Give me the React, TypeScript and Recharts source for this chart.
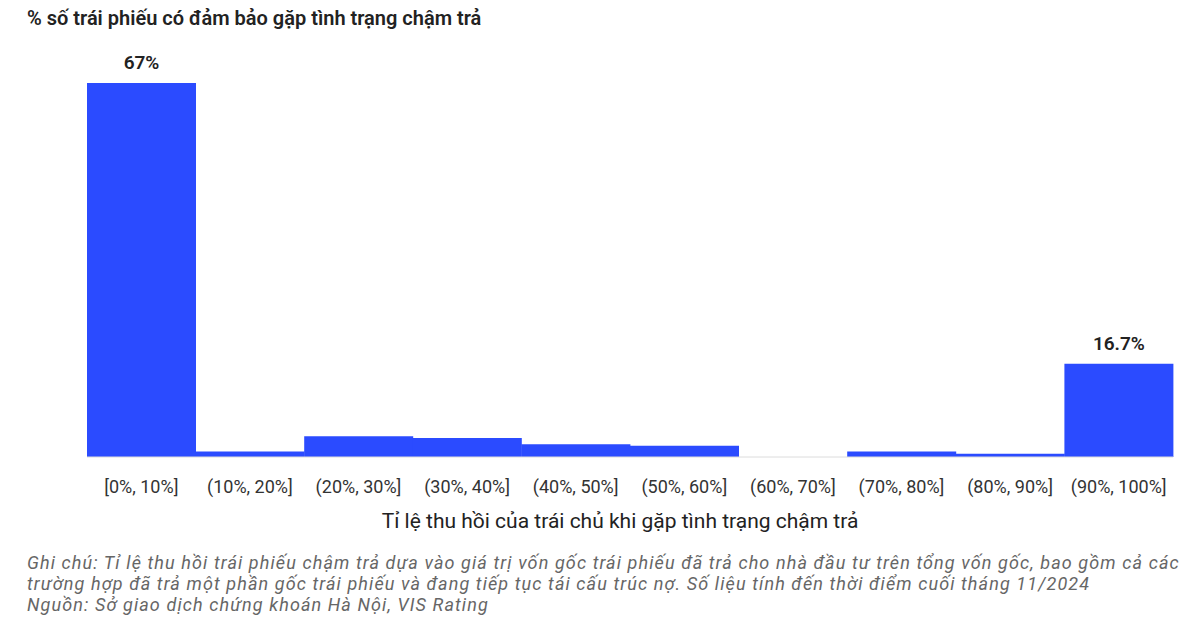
import { BarChart, Bar, XAxis, YAxis, LabelList } from "recharts";

const categories = [
  "[0%, 10%]",
  "(10%, 20%]",
  "(20%, 30%]",
  "(30%, 40%]",
  "(40%, 50%]",
  "(50%, 60%]",
  "(60%, 70%]",
  "(70%, 80%]",
  "(80%, 90%]",
  "(90%, 100%]",
];
const shares = [67, 1.0, 3.7, 3.4, 2.3, 2.0, 0, 1.0, 0.6, 16.7];
const shownLabels = ["67%", "", "", "", "", "", "", "", "", "16.7%"];

const data = categories.map((c, i) => ({
  name: c,
  value: shares[i],
  label: shownLabels[i],
}));

const font = "Roboto, 'Noto Sans', sans-serif";

export default function App() {
  return (
    <div
      style={{
        position: "absolute",
        left: 0,
        top: 0,
        width: 1200,
        height: 640,
        background: "#fff",
        fontFamily: font,
      }}
    >
      <div
        style={{
          position: "absolute",
          left: 27,
          top: 6,
          fontSize: 20,
          fontWeight: 600,
          color: "#222",
        }}
      >
        % số trái phiếu có đảm bảo gặp tình trạng chậm trả
      </div>
      <BarChart
        width={1200}
        height={640}
        data={data}
        margin={{ top: 55, right: 27, bottom: 153, left: 87 }}
        barCategoryGap={0}
      >
        <YAxis
          width={0}
          domain={[0, 72]}
          tick={false}
          tickLine={false}
          axisLine={{ stroke: "#dcdcdc" }}
        />
        <XAxis
          dataKey="name"
          height={30}
          tickLine={false}
          axisLine={{ stroke: "#dcdcdc" }}
          interval={0}
          tick={{ fontSize: 18, fill: "#333", fontFamily: font }}
          tickMargin={17}
        />
        <Bar dataKey="value" fill="#2b4bff" isAnimationActive={false}>
          <LabelList
            dataKey="label"
            position="top"
            offset={14}
            style={{ fontSize: 19, fontWeight: 600, fill: "#222", fontFamily: font }}
          />
        </Bar>
      </BarChart>
      <div
        style={{
          position: "absolute",
          left: 0,
          width: 1240,
          top: 509,
          textAlign: "center",
          fontSize: 21,
          color: "#222",
        }}
      >
        Tỉ lệ thu hồi của trái chủ khi gặp tình trạng chậm trả
      </div>
      <div
        style={{
          position: "absolute",
          left: 27,
          top: 552,
          width: 1190,
          fontSize: 18,
          letterSpacing: 1.1,
          fontStyle: "italic",
          color: "#666",
          lineHeight: "21px",
          whiteSpace: "nowrap",
        }}
      >
        <div>
          Ghi chú: Tỉ lệ thu hồi trái phiếu chậm trả dựa vào giá trị vốn gốc trái phiếu đã trả cho nhà đầu tư trên tổng vốn gốc, bao gồm cả các
        </div>
        <div>
          trường hợp đã trả một phần gốc trái phiếu và đang tiếp tục tái cấu trúc nợ. Số liệu tính đến thời điểm cuối tháng 11/2024
        </div>
        <div>Nguồn: Sở giao dịch chứng khoán Hà Nội, VIS Rating</div>
      </div>
    </div>
  );
}
